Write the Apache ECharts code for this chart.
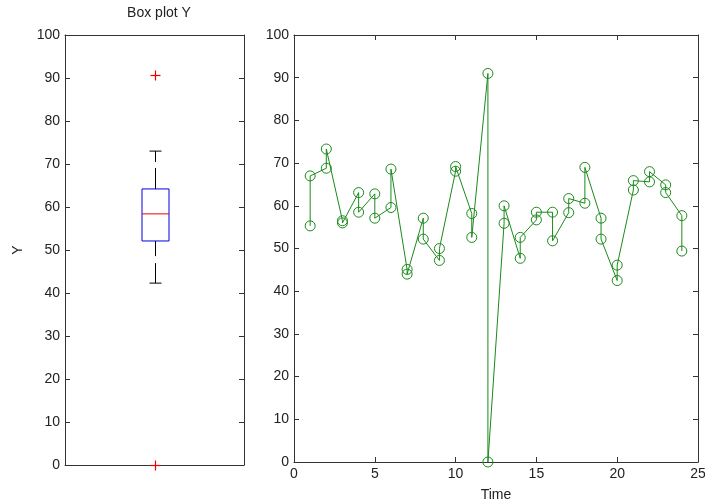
<!DOCTYPE html>
<html>
<head>
<meta charset="utf-8">
<script src="https://cdn.jsdelivr.net/npm/echarts@6/dist/echarts.min.js"></script>
<style>
  html, body { margin: 0; padding: 0; background: #fff; }
  #main { width: 705px; height: 499px; }
</style>
</head>
<body>
<div id="main"></div>
<script>
// box plot stats: lower whisker, q1, median, q3, upper whisker
const boxStats = [42.3, 52.1, 58.4, 64.2, 73.0]
const outliers = [90.7, 0]

// time series, two samples per time step
const timeValues = [
    1, 1, 2, 2, 3, 3, 4, 4, 5, 5, 6, 6, 7, 7, 8, 8, 9, 9, 10, 10, 11, 11, 12, 12,
    13, 13, 14, 14, 15, 15, 16, 16, 17, 17, 18, 18, 19, 19, 20, 20, 21, 21, 22, 22, 23, 23, 24, 24
]
const yValues = [
    55.3, 67.0, 68.8, 73.3, 56.5, 56.0, 63.1, 58.5, 62.8, 57.1, 59.6, 68.6,
    45.1, 44.0, 57.1, 52.2, 47.2, 50.0, 68.1, 69.2, 58.2, 52.6, 91.0, 0,
    55.9, 60.0, 47.7, 52.6, 56.7, 58.5, 58.5, 51.8, 58.4, 61.7, 60.6, 69.0,
    57.1, 52.2, 42.5, 46.1, 63.7, 65.9, 65.6, 68.0, 64.9, 63.1, 57.7, 49.4
]
const xTicks = [0, 5, 10, 15, 20, 25]

const chart = echarts.init(document.getElementById('main'))

const axisColor = '#333'
const textColor = '#222'
const green = '#1a8a1a'
const red = '#ee0000'

function frameAxis(extra) {
    return Object.assign({
        axisLine: { show: true, onZero: false, lineStyle: { color: axisColor, width: 1 } },
        axisTick: { show: true, inside: true, length: 5, lineStyle: { color: axisColor } },
        axisLabel: { show: false },
        splitLine: { show: false }
    }, extra)
}

const linePoints = timeValues.map((t, i) => [t, yValues[i]])

chart.setOption({
    animation: false,
    backgroundColor: '#fff',
    textStyle: { fontFamily: 'Liberation Sans, Arial, sans-serif' },
    title: {
        text: 'Box plot Y',
        left: 154,
        top: 1,
        textAlign: 'center',
        textStyle: { fontSize: 14, fontWeight: 'normal', color: textColor }
    },
    grid: [
        { left: 65, top: 35, width: 179, height: 430, outerBoundsMode: 'none' },
        { left: 294, top: 35, width: 404, height: 427, outerBoundsMode: 'none' }
    ],
    xAxis: [
        frameAxis({ gridIndex: 0, type: 'value', min: 0, max: 2, position: 'bottom', axisTick: { show: false } }),
        frameAxis({ gridIndex: 0, type: 'value', min: 0, max: 2, position: 'top', axisTick: { show: false } }),
        frameAxis({
            gridIndex: 1, type: 'value', min: xTicks[0], max: xTicks[xTicks.length - 1], interval: 5,
            position: 'bottom',
            name: 'Time', nameLocation: 'middle', nameGap: 26,
            nameTextStyle: { fontSize: 14, color: textColor },
            axisLabel: { show: true, fontSize: 14, color: textColor, margin: 5 }
        }),
        frameAxis({ gridIndex: 1, type: 'value', min: 0, max: 25, interval: 5, position: 'top' })
    ],
    yAxis: [
        frameAxis({
            gridIndex: 0, type: 'value', min: 0, max: 100, interval: 10, position: 'left',
            name: 'Y', nameLocation: 'middle', nameGap: 40,
            nameTextStyle: { fontSize: 14, color: textColor },
            axisLabel: { show: true, fontSize: 14, color: textColor, margin: 5 }
        }),
        frameAxis({ gridIndex: 0, type: 'value', min: 0, max: 100, interval: 10, position: 'right' }),
        frameAxis({
            gridIndex: 1, type: 'value', min: 0, max: 100, interval: 10, position: 'left',
            axisLabel: { show: true, fontSize: 14, color: textColor, margin: 5 }
        }),
        frameAxis({ gridIndex: 1, type: 'value', min: 0, max: 100, interval: 10, position: 'right' })
    ],
    series: [
        {
            // box, median, whiskers
            type: 'custom',
            xAxisIndex: 0,
            yAxisIndex: 0,
            clip: false,
            silent: true,
            data: [[1].concat(boxStats)],
            renderItem: function (params, api) {
                const x = api.value(0)
                const lo = api.coord([x, api.value(1)])
                const q1 = api.coord([x, api.value(2)])
                const med = api.coord([x, api.value(3)])
                const q3 = api.coord([x, api.value(4)])
                const hi = api.coord([x, api.value(5)])
                const cx = Math.round(q1[0]) + 0.5
                const bw = 13.5
                const cw = 6
                return {
                    type: 'group',
                    children: [
                        { type: 'line', shape: { x1: cx, y1: q3[1], x2: cx, y2: hi[1] }, style: { stroke: '#000', lineWidth: 1, lineDash: [21, 6] } },
                        { type: 'line', shape: { x1: cx, y1: lo[1], x2: cx, y2: q1[1] }, style: { stroke: '#000', lineWidth: 1, lineDash: [20, 7] } },
                        { type: 'line', shape: { x1: cx - cw, y1: hi[1], x2: cx + cw, y2: hi[1] }, style: { stroke: '#000', lineWidth: 1 } },
                        { type: 'line', shape: { x1: cx - cw, y1: lo[1], x2: cx + cw, y2: lo[1] }, style: { stroke: '#000', lineWidth: 1 } },
                        {
                            type: 'rect',
                            shape: { x: cx - bw, y: q3[1], width: bw * 2, height: q1[1] - q3[1] },
                            style: { fill: 'none', stroke: '#0000e0', lineWidth: 1 }
                        },
                        { type: 'line', shape: { x1: cx - bw, y1: med[1], x2: cx + bw, y2: med[1] }, style: { stroke: red, lineWidth: 1 } }
                    ]
                }
            }
        },
        {
            // outlier plus marks
            type: 'custom',
            xAxisIndex: 0,
            yAxisIndex: 0,
            clip: false,
            silent: true,
            z: 5,
            itemStyle: { color: red },
            data: outliers.map((v) => [1, v]),
            renderItem: function (params, api) {
                const p = api.coord([api.value(0), api.value(1)])
                const cx = Math.round(p[0]) + 0.5
                const cy = Math.round(p[1]) + 0.5
                const s = 5
                return {
                    type: 'group',
                    children: [
                        { type: 'line', shape: { x1: cx - s, y1: cy, x2: cx + s, y2: cy }, style: { stroke: red, lineWidth: 1.2 } },
                        { type: 'line', shape: { x1: cx, y1: cy - s, x2: cx, y2: cy + s }, style: { stroke: red, lineWidth: 1.2 } }
                    ]
                }
            }
        },
        {
            type: 'line',
            xAxisIndex: 2,
            yAxisIndex: 2,
            data: linePoints,
            clip: false,
            silent: true,
            symbol: 'circle',
            symbolSize: 10,
            showSymbol: true,
            lineStyle: { color: green, width: 1 },
            itemStyle: { color: 'rgba(0,0,0,0)', borderColor: green, borderWidth: 1 },
            emphasis: { disabled: true }
        }
    ]
})
</script>
</body>
</html>
